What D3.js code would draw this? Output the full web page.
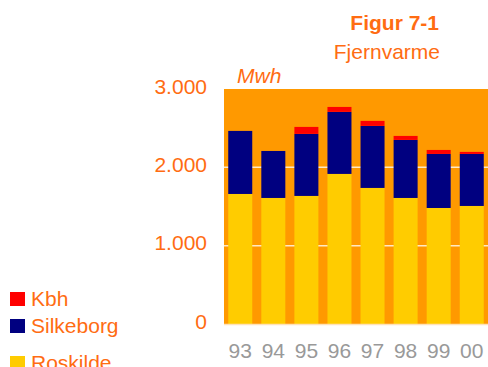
<!DOCTYPE html>
<html>
<head>
<meta charset="utf-8">
<script src="https://cdn.jsdelivr.net/npm/d3@7"></script>
<style>
  html, body { margin: 0; padding: 0; background: #fff; }
  svg { display: block; font-family: "Liberation Sans", Arial, sans-serif; }
</style>
</head>
<body>
<svg id="chart" width="488" height="367"></svg>
<script>
// Fjernvarme, Mwh per år
const years = ["93", "94", "95", "96", "97", "98", "99", "00"];
const roskilde  = [1660, 1609, 1635, 1916, 1737, 1609, 1481, 1507];
const silkeborg = [805, 600, 792, 792, 792, 741, 690, 664];
const kbh       = [0, 0, 89, 63, 64, 51, 51, 26];
const seriesNames = ["Roskilde", "Silkeborg", "Kbh"];
const seriesColors = ["#FFCC00", "#000080", "#FF0000"];
const yTicks = [0, 1000, 2000, 3000];
const yTickLabels = ["0", "1.000", "2.000", "3.000"];

const textOrange = "#FF6C12";
const fontSize = 21;
const svg = d3.select("#chart");

const plot = { left: 224, right: 488, top: 89, bottom: 324 };

const x = d3.scaleBand().domain(years)
  .range([plot.left, plot.right])
  .paddingInner(0.274).paddingOuter(0.128);
const y = d3.scaleLinear().domain([0, 3000]).range([plot.bottom, plot.top]);

// plot background
svg.append("rect")
  .attr("x", plot.left).attr("y", y(3000))
  .attr("width", plot.right - plot.left).attr("height", y(0) - y(3000))
  .attr("fill", "#FF9900");

// gridlines
svg.append("g").selectAll("line")
  .data(yTicks.filter(d => d > 0 && d < 3000))
  .join("line")
  .attr("x1", plot.left).attr("x2", plot.right)
  .attr("y1", d => y(d)).attr("y2", d => y(d))
  .attr("stroke", "#FFE9C4").attr("stroke-width", 1.5);

// stacked bars
const table = years.map((yr, i) => ({ year: yr, Roskilde: roskilde[i], Silkeborg: silkeborg[i], Kbh: kbh[i] }));
const stacked = d3.stack().keys(seriesNames)(table);
svg.append("g").selectAll("g")
  .data(stacked)
  .join("g")
  .attr("fill", (d, i) => seriesColors[i])
  .selectAll("rect")
  .data(d => d.filter(p => p[1] > p[0]))
  .join("rect")
  .attr("x", d => x(d.data.year))
  .attr("width", x.bandwidth())
  .attr("y", d => y(d[1]))
  .attr("height", d => y(d[0]) - y(d[1]));

// baseline
svg.append("line")
  .attr("x1", plot.left).attr("x2", plot.right)
  .attr("y1", y(0) + 0.5).attr("y2", y(0) + 0.5)
  .attr("stroke", "#FFE2B8").attr("stroke-width", 1.5);

// y axis labels
const yAxis = d3.axisLeft(y).tickValues(yTicks)
  .tickFormat((d, i) => yTickLabels[i]).tickSize(0).tickPadding(0);
const gy = svg.append("g").attr("transform", "translate(207,0)").call(yAxis);
gy.select(".domain").remove();
gy.selectAll("text")
  .attr("fill", textOrange).attr("font-size", fontSize)
  .attr("font-family", "Liberation Sans, Arial, sans-serif")
  .attr("dy", "0.2em");

// x axis labels
const xAxis = d3.axisBottom(x).tickSize(0).tickPadding(0);
const gx = svg.append("g").attr("transform", "translate(0,339)").call(xAxis);
gx.select(".domain").remove();
gx.selectAll("text")
  .attr("fill", "#999999").attr("font-size", fontSize)
  .attr("font-family", "Liberation Sans, Arial, sans-serif")
  .attr("dy", "0.9em");

// titles
svg.append("text").attr("x", 439).attr("y", 30)
  .attr("text-anchor", "end").attr("font-size", fontSize).attr("font-weight", "bold")
  .attr("fill", textOrange).text("Figur 7-1");
svg.append("text").attr("x", 440).attr("y", 59)
  .attr("text-anchor", "end").attr("font-size", fontSize)
  .attr("fill", textOrange).text("Fjernvarme");
svg.append("text").attr("x", 237).attr("y", 83)
  .attr("font-size", fontSize).attr("font-style", "italic")
  .attr("fill", textOrange).text("Mwh");

// legend
const legendOrder = [2, 1, 0];
const legendY = [299, 326, 363];
const legend = svg.append("g").selectAll("g")
  .data(legendOrder)
  .join("g")
  .attr("transform", (d, i) => `translate(10,${legendY[i]})`);
legend.append("rect")
  .attr("x", 0).attr("y", -7).attr("width", 15).attr("height", 14)
  .attr("fill", d => seriesColors[d]);
legend.append("text")
  .attr("x", 21).attr("y", 4).attr("dy", "0.15em")
  .attr("font-size", fontSize).attr("fill", textOrange)
  .text(d => seriesNames[d]);
</script>
</body>
</html>
